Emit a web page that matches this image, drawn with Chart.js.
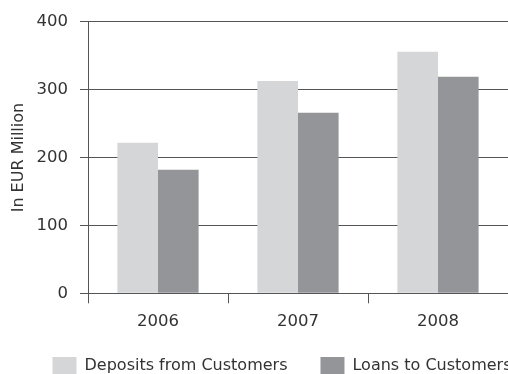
<!DOCTYPE html>
<html>
<head>
<meta charset="utf-8">
<script src="https://cdn.jsdelivr.net/npm/chart.js@4/dist/chart.umd.min.js"></script>
<style>
  html, body { margin: 0; padding: 0; background: #ffffff; overflow: hidden; width: 508px; height: 374px; }
  #wrap { position: absolute; left: 0; top: 0; width: 564px; height: 395px; }
</style>
</head>
<body>
<div id="wrap"><canvas id="c" width="564" height="395"></canvas></div>
<script>
const categories = ['2006', '2007', '2008'];
const depositsFromCustomers = [222, 313, 356];
const loansToCustomers = [182, 266, 319];
const seriesNames = ['Deposits from Customers', 'Loans to Customers'];
const yTicks = [0, 100, 200, 300, 400];
const yTitle = 'In EUR Million';

const FONT = 'DejaVu Sans';
const TEXT = '#333333';
const LINE = '#555555';

const legendShift = {
  id: 'legendShift',
  afterLayout(chart) {
    const lg = chart.legend;
    if (lg) { lg.top -= 10; lg.bottom -= 10; }
  }
};

new Chart(document.getElementById('c'), {
  type: 'bar',
  data: {
    labels: categories,
    datasets: [
      { label: seriesNames[0], data: depositsFromCustomers, backgroundColor: '#d5d6d8', borderWidth: 0 },
      { label: seriesNames[1], data: loansToCustomers, backgroundColor: '#939598', borderWidth: 0 }
    ]
  },
  plugins: [legendShift],
  options: {
    responsive: false,
    animation: false,
    devicePixelRatio: 1,
    categoryPercentage: 0.58,
    barPercentage: 1.0,
    layout: { padding: { top: 20.5, left: 0, right: 0, bottom: 0 } },
    plugins: {
      legend: {
        position: 'bottom',
        labels: {
          boxWidth: 24,
          boxHeight: 18,
          padding: 33,
          color: TEXT,
          font: { family: FONT, size: 16 }
        }
      },
      tooltip: { enabled: false }
    },
    scales: {
      x: {
        offset: true,
        grid: { display: true, drawOnChartArea: false, drawTicks: true, tickLength: 10, color: LINE, offset: true },
        border: { display: true, color: LINE, width: 1 },
        ticks: { color: TEXT, font: { family: FONT, size: 16.5 }, padding: 9 },
        afterFit: (s) => { s.height = 40.7; }
      },
      y: {
        min: 0,
        max: 400,
        afterBuildTicks: (s) => { s.ticks = yTicks.map(v => ({ value: v })); },
        grid: { color: LINE, tickLength: 8, drawTicks: true },
        border: { display: true, color: LINE, width: 1 },
        ticks: { color: TEXT, font: { family: FONT, size: 16.5 }, padding: 12 },
        title: { display: true, text: yTitle, color: TEXT, font: { family: FONT, size: 16 }, padding: { top: 9, bottom: 0 } },
        afterFit: (s) => { s.width = 88; }
      },
      spacer: {
        type: 'linear',
        position: 'right',
        display: true,
        grid: { display: false, drawTicks: false },
        border: { display: false },
        ticks: { display: false },
        afterFit: (s) => { s.width = 56; }
      }
    }
  }
});
</script>
</body>
</html>
